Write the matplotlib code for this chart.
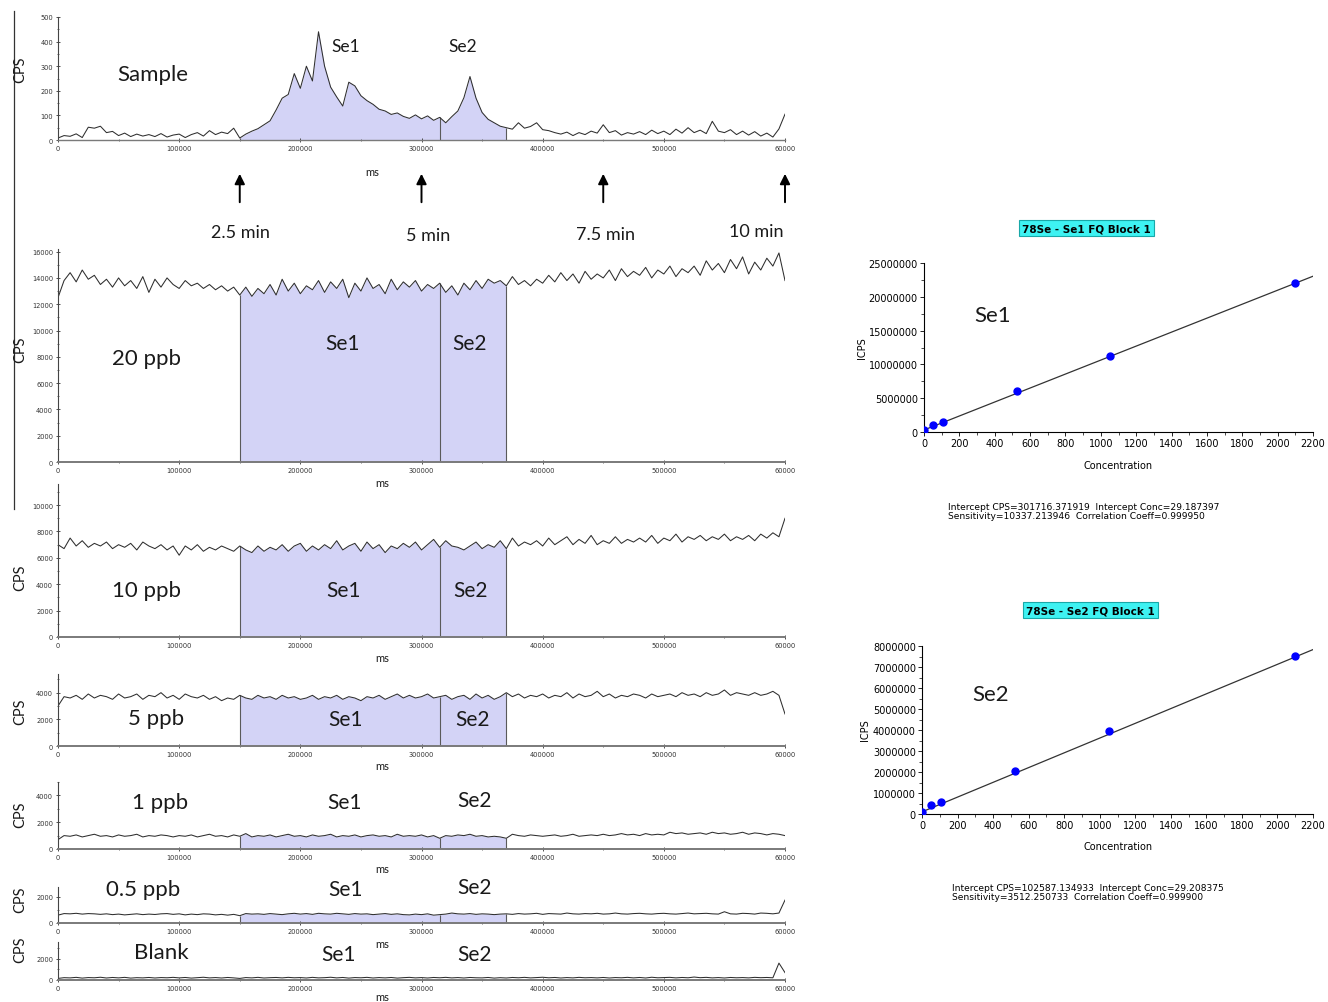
import numpy as np
import matplotlib
matplotlib.use('Agg')
import matplotlib.pyplot as plt
from matplotlib.ticker import MultipleLocator

W, H = 1328, 1003

# ---- chromatogram traces (CPS), every 5000 ms ----
sample_cps = [8, 18, 15, 25, 10, 52, 48, 56, 30, 35,
              18, 28, 14, 24, 16, 22, 14, 26, 12, 20,
              24, 10, 22, 30, 16, 38, 22, 32, 26, 48,
              8, 24, 36, 46, 62, 78, 122, 170, 185, 270,
              210, 300, 240, 440, 300, 215, 175, 138, 235, 220,
              180, 160, 145, 125, 118, 104, 110, 96, 88, 102,
              86, 98, 80, 92, 70, 95, 118, 172, 258, 170,
              112, 84, 70, 56, 50, 44, 70, 48, 55, 70,
              42, 38, 30, 24, 32, 18, 30, 22, 36, 28,
              62, 30, 38, 20, 30, 24, 34, 22, 40, 26,
              36, 22, 44, 28, 50, 30, 40, 26, 76, 36,
              30, 42, 22, 36, 20, 34, 16, 28, 12, 45,
              105]

ppb20_cps = [12500, 13800, 14400, 13700, 14600, 13900, 14200, 13500, 13900, 13300,
             14000, 13400, 13800, 13200, 14100, 12900, 13900, 13300, 14000, 13500,
             13200, 13800, 13400, 13600, 13200, 13500, 13100, 13400, 13000, 13300,
             12700, 13300, 12600, 13200, 12800, 13500, 12700, 13900, 13000, 13600,
             12800, 13400, 13100, 13800, 12900, 13700, 13200, 13900, 12500, 13600,
             13000, 14000, 13200, 13500, 12800, 13900, 13100, 13700, 13300, 13800,
             13000, 13500, 13200, 13600, 12900, 13400, 12700, 13600, 13100, 13800,
             13200, 13900, 13600, 13800, 13400, 14100, 13500, 13800, 13400, 13900,
             13600, 14200, 13700, 14400, 13800, 14300, 13600, 14500, 13900, 14300,
             14000, 14600, 13800, 14700, 14100, 14500, 14200, 14800, 14000, 14600,
             14300, 14900, 14100, 14700, 14400, 14900, 14200, 15300, 14600, 15100,
             14400, 15400, 14700, 15600, 14300, 15200, 14600, 15500, 14900, 15900,
             13800]

ppb10_cps = [7000, 6700, 7500, 6900, 7300, 6800, 7100, 6900, 7200, 6700,
             7000, 6800, 7100, 6600, 7200, 6900, 6700, 7000, 6600, 6900,
             6200, 6900, 6600, 7000, 6500, 6800, 6600, 6900, 6700, 6500,
             6900, 6600, 6400, 6900, 6500, 6800, 6600, 7000, 6500, 6900,
             7100, 6500, 6900, 6600, 7000, 6700, 7300, 6600, 6900, 7100,
             6500, 7200, 6700, 7000, 6400, 6900, 6700, 7100, 6800, 7200,
             6600, 7000, 7400, 6800, 7300, 6900, 6800, 6600, 6900, 7200,
             6700, 7000, 6800, 7300, 6700, 7500, 6900, 7200, 7000, 7300,
             6900, 7500, 7000, 7300, 7600, 7000, 7400, 7100, 7700, 7000,
             7300, 7100, 7600, 7100, 7400, 7200, 7500, 7200, 7700, 7100,
             7500, 7300, 7800, 7200, 7600, 7400, 7700, 7300, 7600, 7400,
             7800, 7300, 7600, 7400, 7700, 7300, 7800, 7500, 7900, 7600,
             9000]

ppb5_cps = [3000, 3700, 3600, 3800, 3500, 3900, 3600, 3800, 3700, 3500,
            3900, 3600, 3700, 3900, 3500, 3800, 3700, 4000, 3600, 3800,
            3500, 3900, 3700, 3600, 3800, 3500, 3700, 3400, 3600, 3500,
            3800, 3600, 3500, 3800, 3600, 3700, 3500, 3800, 3600, 3700,
            3500, 3600, 3800, 3500, 3700, 3600, 3800, 3500, 3700, 3600,
            3400, 3700, 3600, 3800, 3500, 3700, 3900, 3600, 3800, 3600,
            3700, 3900, 3600, 3700, 3800, 3500, 3700, 3800, 3500, 3900,
            3600, 3800, 3500, 3700, 4000, 3700, 3900, 3600, 3800, 3700,
            3900, 3600, 3800, 3700, 4000, 3600, 3900, 3700, 3800, 4100,
            3700, 3900, 3600, 3800, 3700, 3900, 3800, 3600, 3900, 3700,
            3800, 3900, 3700, 4000, 3800, 3900, 3700, 4000, 3800, 3900,
            4200, 3800, 4000, 3900, 3800, 4000, 3800, 3900, 4100, 3800,
            2400]

ppb1_cps = [700, 1000, 950, 1050, 900, 1000, 1100, 950, 1000, 900,
            1050, 950, 1000, 1100, 900, 1000, 950, 1050, 1000, 900,
            1000, 950, 1050, 900, 1000, 1100, 950, 1000, 900, 1050,
            950, 1150, 900, 1000, 950, 1050, 900, 1000, 1100, 950,
            1000, 900, 1050, 950, 1000, 1100, 900, 1000, 950, 1050,
            900, 1000, 1050, 950, 1000, 900, 1100, 950, 1000, 950,
            1050, 900, 1000, 800, 1000, 950, 1050, 1000, 1100, 950,
            1000, 900, 950, 900, 800, 1100, 1000, 950, 1050, 1000,
            950, 1000, 1050, 950, 1000, 1100, 950, 1000, 1050, 1000,
            1100, 1000, 1050, 1150, 1050, 1100, 1000, 1150, 1050, 1100,
            1050, 1250, 1150, 1200, 1100, 1150, 1200, 1100, 1250, 1150,
            1200, 1100, 1150, 1250, 1100, 1200, 1150, 1050, 1150, 1100,
            1000]

ppb05_cps = [600, 720, 700, 740, 680, 720, 700, 660, 700, 640,
             680, 620, 660, 700, 640, 680, 650, 700, 720, 660,
             700, 620, 680, 640, 700, 680, 620, 660, 600, 660,
             560, 720, 680, 700, 660, 720, 680, 640, 700, 740,
             680, 720, 660, 740, 700, 680, 740, 700, 660, 720,
             680, 700, 640, 680, 720, 660, 700, 640, 620, 680,
             640, 700, 600, 640, 680, 760, 700, 680, 720, 660,
             700, 680, 640, 680, 700, 660, 720, 680, 700, 740,
             660, 720, 700, 680, 760, 700, 680, 720, 700, 740,
             680, 700, 760, 700, 680, 720, 740, 700, 680, 720,
             740, 700, 680, 720, 760, 700, 720, 740, 700, 680,
             860, 700, 680, 740, 720, 680, 760, 740, 700, 760,
             1750]

blank_cps = [150, 220, 200, 250, 180, 230, 210, 260, 190, 240,
             200, 250, 180, 220, 200, 240, 190, 230, 210, 250,
             200, 240, 180, 220, 260, 200, 230, 190, 240, 200,
             150, 230, 200, 250, 190, 220, 240, 200, 250, 210,
             230, 190, 250, 200, 220, 260, 200, 240, 180, 230,
             210, 250, 190, 230, 200, 240, 180, 220, 250, 200,
             230, 190, 240, 210, 250, 200, 230, 190, 240, 210,
             200, 240, 180, 220, 190, 240, 210, 250, 200, 230,
             260, 210, 240, 190, 230, 200, 250, 210, 230, 200,
             240, 190, 230, 210, 250, 200, 240, 190, 260, 210,
             230, 250, 200, 240, 210, 280, 220, 250, 200, 230,
             190, 240, 210, 230, 200, 250, 220, 240, 210, 1600,
             700]

x_ticks = [0, 100000, 200000, 300000, 400000, 500000, 600000]
x_tick_labels = ['0', '100000', '200000', '300000', '400000', '500000', '60000']
peak_bounds = [150000, 315000, 370000]      # integration window Se1 | Se2

# ---- calibration curves ----
conc = [0, 52.5, 105, 525, 1050, 2100]
se1_icps = [300000, 1000000, 1450000, 6050000, 11300000, 22100000]
se2_icps = [100000, 410000, 560000, 2050000, 3930000, 7530000]
se1_fit = (301716.371919, 10337.213946)    # intercept, sensitivity
se2_fit = (102587.134933, 3512.250733)

fig = plt.figure(figsize=(W / 100, H / 100), dpi=100)
LABEL_FONT = ['Lato', 'DejaVu Sans']


def rect(left, top, right, bottom):
    return [left / W, 1 - bottom / H, (right - left) / W, (bottom - top) / H]


def ftext(x, y, s, **kw):
    kw.setdefault('ha', 'center')
    kw.setdefault('va', 'center')
    return fig.text(x / W, 1 - y / H, s, **kw)


# panel: values, top px, bottom px, ymax, yticks, minor, label, label xy, se1 xy, se2 xy, CPS y, ms y, fill
panels = [
    (sample_cps, 18, 141, 500, range(0, 501, 100), 50, 'Sample', (153, 75), (346, 47), (463, 47), 70, 172, 'sample'),
    (ppb20_cps, 250, 463, 16200, range(0, 16001, 2000), 1000, '20 ppb', (147, 359), (343, 344), (470, 344), 350, 484, 'std'),
    (ppb10_cps, 485, 638, 11600, range(0, 10001, 2000), 1000, '10 ppb', (147, 591), (344, 591), (471, 591), 578, 659, 'std'),
    (ppb5_cps, 675, 747, 5400, [0, 2000, 4000], 1000, '5 ppb', (156, 719), (346, 720), (473, 720), 712, 767, 'std'),
    (ppb1_cps, 783, 850, 5000, [0, 2000, 4000], 1000, '1 ppb', (160, 803), (345, 803), (475, 801), 815, 870, 'std'),
    (ppb05_cps, 888, 924, 2750, [0, 2000], 1000, '0.5 ppb', (143, 890), (346, 890), (475, 888), 900, 945, 'std'),
    (blank_cps, 943, 981, 3600, [0, 2000], 1000, 'Blank', (161, 953), (339, 955), (475, 955), 950, 998, 'none'),
]

for vals, top, bottom, ymax, yt, ymin_step, label, lxy, s1, s2, cps_y, ms_y, mode in panels:
    ax = fig.add_axes(rect(58, top, 785, bottom))
    ax.patch.set_alpha(0)
    y = np.array(vals, dtype=float)
    t = np.linspace(0, 600000, len(y))
    if mode != 'none':
        mask = (t >= peak_bounds[0]) & (t <= peak_bounds[-1])
        ax.fill_between(t, y, where=mask, color='#d3d3f6', lw=0)
        ax.vlines(peak_bounds, 0, np.interp(peak_bounds, t, y), color='#5a5a5a', lw=0.8)
    ax.plot(t, y, color='#2e2e2e', lw=0.75)
    ax.set_xlim(0, 600000)
    ax.set_ylim(0, ymax)
    for s in ('top', 'right'):
        ax.spines[s].set_visible(False)
    ax.spines['left'].set_color('#444444')
    ax.spines['left'].set_linewidth(0.8)
    ax.spines['bottom'].set_color('#7a7a7a')
    ax.spines['bottom'].set_linewidth(1.4 if mode != 'sample' else 1.0)
    ax.set_xticks(x_ticks)
    ax.set_xticklabels(x_tick_labels)
    ax.xaxis.set_minor_locator(MultipleLocator(50000))
    ax.set_yticks(list(yt))
    ax.yaxis.set_minor_locator(MultipleLocator(ymin_step))
    ax.tick_params(axis='both', which='major', labelsize=4.8, length=3, width=0.6,
                   direction='inout', pad=2, colors='#333333')
    ax.tick_params(axis='both', which='minor', length=2, width=0.5, direction='inout', colors='#333333')
    ftext(lxy[0], lxy[1], label, fontsize=16, family=LABEL_FONT, color='#1a1a1a')
    se_size = 12.5 if mode == 'sample' else 15
    ftext(s1[0], s1[1], 'Se1', fontsize=se_size, family=LABEL_FONT, color='#1a1a1a')
    ftext(s2[0], s2[1], 'Se2', fontsize=se_size, family=LABEL_FONT, color='#1a1a1a')
    ftext(20, cps_y, 'CPS', fontsize=10.5, rotation=90, family=LABEL_FONT, color='#1a1a1a')
    ftext(382 if mode != 'sample' else 372, ms_y, 'ms', fontsize=8, family=LABEL_FONT, color='#1a1a1a')
    if mode == 'sample':
        sample_ax = ax

# arrows marking elution time
arrow_t = [150000, 300000, 450000, 600000]
arrow_labels = ['2.5 min', '5 min', '7.5 min', '10 min']
arrow_label_xy = [(240, 233), (428, 236), (605, 235), (756, 232)]
for tt, lab, (lx, ly) in zip(arrow_t, arrow_labels, arrow_label_xy):
    sample_ax.annotate('', xy=(tt, 1 - 172 / H), xytext=(tt, 1 - 206 / H),
                       xycoords=('data', 'figure fraction'), textcoords=('data', 'figure fraction'),
                       arrowprops=dict(arrowstyle='-|>', color='black', lw=1.4, mutation_scale=15),
                       annotation_clip=False)
    ftext(lx, ly, lab, fontsize=13, family=LABEL_FONT, color='#1a1a1a')

# thin frame line at the far left
fig.add_artist(plt.Line2D([14 / W, 14 / W], [1 - 12 / H, 1 - 510 / H], color='#333333', lw=0.9))

# ---- calibration plots ----
calib = [
    (se1_icps, se1_fit, (924, 264, 1313, 433), 25000000, 5000000, '78Se - Se1 FQ Block 1', (1086, 229),
     'Se1', (993, 316), (862, 348), 466,
     'Intercept CPS=301716.371919  Intercept Conc=29.187397\nSensitivity=10337.213946  Correlation Coeff=0.999950', (948, 512)),
    (se2_icps, se2_fit, (922, 647, 1313, 815), 8000000, 1000000, '78Se - Se2 FQ Block 1', (1090, 611),
     'Se2', (991, 695), (865, 730), 847,
     'Intercept CPS=102587.134933  Intercept Conc=29.208375\nSensitivity=3512.250733  Correlation Coeff=0.999900', (952, 893)),
]
for icps, (b0, b1), box, ymax, ystep, title, txy, lab, lab_xy, icps_xy, conc_y, stats, sxy in calib:
    ax = fig.add_axes(rect(*box))
    ax.patch.set_alpha(0)
    xl = np.array([0, 2200])
    ax.plot(xl, b0 + b1 * xl, color='#333333', lw=0.9, zorder=2)
    ax.plot(conc, icps, 'o', color='#0000ff', ms=5, zorder=3)
    ax.set_xlim(0, 2200)
    ax.set_ylim(0, ymax)
    for s in ('top', 'right'):
        ax.spines[s].set_visible(False)
    ax.spines['left'].set_linewidth(0.8)
    ax.spines['bottom'].set_linewidth(0.8)
    ax.set_xticks(range(0, 2201, 200))
    ax.xaxis.set_minor_locator(MultipleLocator(100))
    yts = list(range(0, ymax + 1, ystep))
    ax.set_yticks(yts)
    ax.set_yticklabels([str(v) for v in yts])
    ax.yaxis.set_minor_locator(MultipleLocator(ystep / 2))
    ax.tick_params(axis='both', which='major', labelsize=7, length=3, width=0.6, pad=1.5)
    ax.tick_params(axis='both', which='minor', length=2, width=0.5)
    ftext(txy[0], txy[1], title, fontsize=7.5, fontweight='bold',
          bbox=dict(boxstyle='square,pad=0.3', fc='#3ef2f2', ec='#19a8a8', lw=0.8))
    ftext(lab_xy[0], lab_xy[1], lab, fontsize=16, family=LABEL_FONT, color='#1a1a1a')
    ftext(icps_xy[0], icps_xy[1], 'ICPS', fontsize=7, rotation=90)
    ftext(1118, conc_y, 'Concentration', fontsize=7)
    ftext(sxy[0], sxy[1], stats, fontsize=6.6, ha='left', multialignment='left', linespacing=1.05)

fig.savefig('out.png', dpi=100)
